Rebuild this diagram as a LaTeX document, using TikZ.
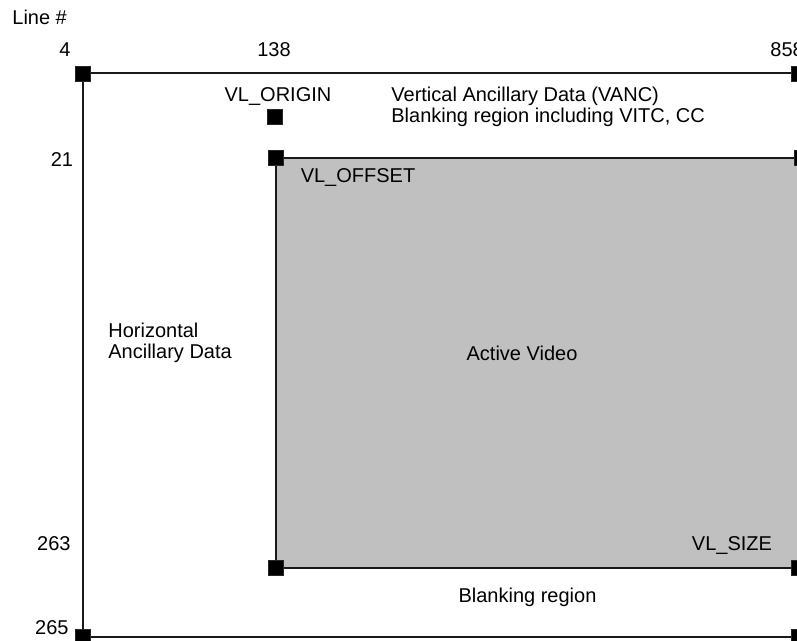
\documentclass[tikz,border=0pt]{standalone}
\usepackage{fontspec}
\setmainfont{Liberation Sans}
\usepackage{tikz}
\usetikzlibrary{positioning}
\definecolor{ActiveGray}{RGB}{192,192,192}
\tikzset{
  marker/.style={draw=black!85, fill=black, minimum size=7.5pt, inner sep=0pt, outer sep=0pt},
  edge/.style={line width=1pt, draw=black!90},
  lbl/.style={font=\fontsize{10}{10.7}\selectfont, inner sep=0pt, anchor=base}
}
\begin{document}
\begin{tikzpicture}[x=0.5pt, y=-0.5pt]
  \useasboundingbox (0,0) rectangle (797,641);
  % active video area
  \fill[ActiveGray] (276,158) rectangle (805,568);
  % corner markers
  \coordinate (tl) at (82.5,73.5);
  \coordinate (tr) at (799,73.5);
  \coordinate (bl) at (82.5,637);
  \coordinate (br) at (799,637);
  \coordinate (offl) at (276,158);
  \coordinate (offr) at (802,158);
  \coordinate (sizel) at (276,568);
  \coordinate (sizer) at (798.5,568);
  \draw[edge] (tl) -- (tr);
  \draw[edge] (tl) -- (bl);
  \draw[edge] (bl) -- (br);
  \draw[edge] (offl) -- (offr);
  \draw[edge] (offl) -- (sizel);
  \draw[edge] (sizel) -- (sizer);
  \node[marker] (mtl) at (tl) {};
  \node[marker] (mtr) at (tr) {};
  \node[marker] (mbl) at (bl) {};
  \node[marker] (mbr) at (br) {};
  \node[marker] (moffl) at (offl) {};
  \node[marker] (moffr) at (offr) {};
  \node[marker] (msizel) at (sizel) {};
  \node[marker] (msizer) at (sizer) {};
  \node[marker] (morigin) at (275,117) {};
  % line numbers
  \node[lbl, anchor=base west] (linehdr) at (12,25) {Line \#};
  \node[lbl] (n4) at (65,57) {4};
  \node[lbl] (n138) at (274,57) {138};
  \node[lbl, anchor=base west] (n858) at (770,57) {858};
  \node[lbl] (n21) at (62,167) {21};
  \node[lbl, anchor=base east] (n263) at (71,550) {263};
  \node[lbl, anchor=base east] (n265) at (69,634) {265};
  % region labels
  \node[lbl] (origin) at (278,101.5) {VL\_ORIGIN};
  \node[lbl, anchor=base west, align=left] (vanc) at (391,123)
    {Vertical Ancillary Data (VANC)\\ Blanking region including VITC, CC};
  \node[lbl] (offset) at (358,182.5) {VL\_OFFSET};
  \node[lbl, anchor=west, align=left] (hanc) at (108,343) {Horizontal\\Ancillary Data};
  \node[lbl] (active) at (522,361) {Active Video};
  \node[lbl] (size) at (732,550) {VL\_SIZE};
  \node[lbl] (blank) at (527.5,602) {Blanking region};
\end{tikzpicture}
\end{document}
